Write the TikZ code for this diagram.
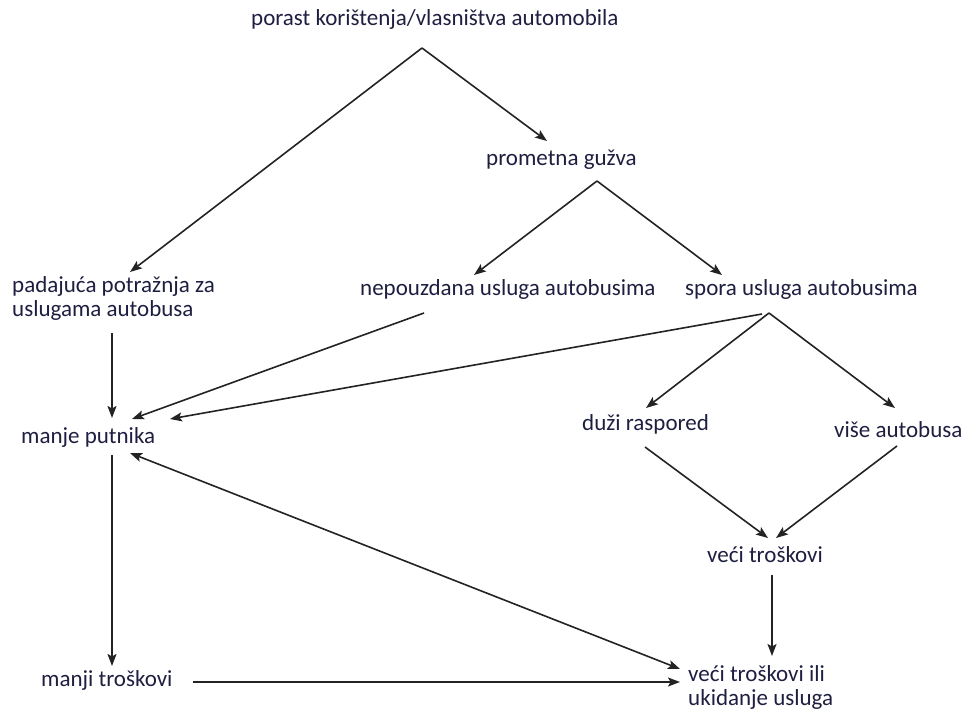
\documentclass[tikz,border=0pt]{standalone}
\usepackage{fontspec}
\setmainfont{Carlito}
\usetikzlibrary{arrows.meta}
\definecolor{txt}{RGB}{30,30,65}
\definecolor{ln}{RGB}{35,35,35}
\begin{document}
\begin{tikzpicture}[x=1pt,y=-1pt,
  lbl/.style={anchor=west, inner sep=0pt, text=txt, font=\fontsize{23}{24}\selectfont, align=left, text height=15pt, text depth=5pt},
  arr/.style={draw=ln, line width=1.6pt, -{Stealth[length=12pt,width=9pt,inset=2.5pt]}},
  dbl/.style={draw=ln, line width=1.6pt, {Stealth[length=12pt,width=9pt,inset=2.5pt]}-{Stealth[length=12pt,width=9pt,inset=2.5pt]}}]
\useasboundingbox (0,0) rectangle (965,711);
% nodes
\node[lbl] (top) at (251,21) {porast korištenja/vlasništva automobila};
\node[lbl] (prom) at (486,161) {prometna gužva};
\node[lbl] (pad) at (12,311) {padajuća potražnja za\\uslugama autobusa};
\node[lbl] (nep) at (360,290) {nepouzdana usluga autobusima};
\node[lbl] (spora) at (685,290) {spora usluga autobusima};
\node[lbl] (manje) at (21,438) {manje putnika};
\node[lbl] (duzi) at (582,425) {duži raspored};
\node[lbl] (vise) at (834,432) {više autobusa};
\node[lbl] (veci) at (707,557) {veći troškovi};
\node[lbl] (manji) at (41,681) {manji troškovi};
\node[lbl] (ukid) at (688,700) {veći troškovi ili\\ukidanje usluga};
% connector end points
\coordinate (A) at (422,48);
\coordinate (B) at (597,181);
\coordinate (S) at (769,313);
\coordinate (S2) at (762,314);
\coordinate (N) at (424,313);
\coordinate (tPad) at (130,272);
\coordinate (tProm) at (547,141);
\coordinate (tNep) at (474,275);
\coordinate (tSpora) at (722,275);
\coordinate (padB) at (112,333);
\coordinate (tManjeA) at (112,418);
\coordinate (tManjeB) at (132,419);
\coordinate (tManjeC) at (170,419);
\coordinate (tDuzi) at (646,408);
\coordinate (tVise) at (895,408);
\coordinate (duziB) at (645,447);
\coordinate (viseB) at (897,446);
\coordinate (tVeciL) at (768,538);
\coordinate (tVeciR) at (776,538);
\coordinate (veciB) at (772,575);
\coordinate (tUkidV) at (772,656);
\coordinate (manjeB) at (112,455);
\coordinate (tManji) at (112,666);
\coordinate (manjeD) at (130,453);
\coordinate (tUkidD) at (680,669);
\coordinate (manjiR) at (193,682);
\coordinate (tUkidH) at (680,682);
% connectors
\draw[arr] (A) -- (tPad);
\draw[arr] (A) -- (tProm);
\draw[arr] (B) -- (tNep);
\draw[arr] (B) -- (tSpora);
\draw[arr] (padB) -- (tManjeA);
\draw[arr] (N) -- (tManjeB);
\draw[arr] (S2) -- (tManjeC);
\draw[arr] (S) -- (tDuzi);
\draw[arr] (S) -- (tVise);
\draw[arr] (duziB) -- (tVeciL);
\draw[arr] (viseB) -- (tVeciR);
\draw[arr] (veciB) -- (tUkidV);
\draw[arr] (manjeB) -- (tManji);
\draw[dbl] (manjeD) -- (tUkidD);
\draw[arr] (manjiR) -- (tUkidH);
\end{tikzpicture}
\end{document}
